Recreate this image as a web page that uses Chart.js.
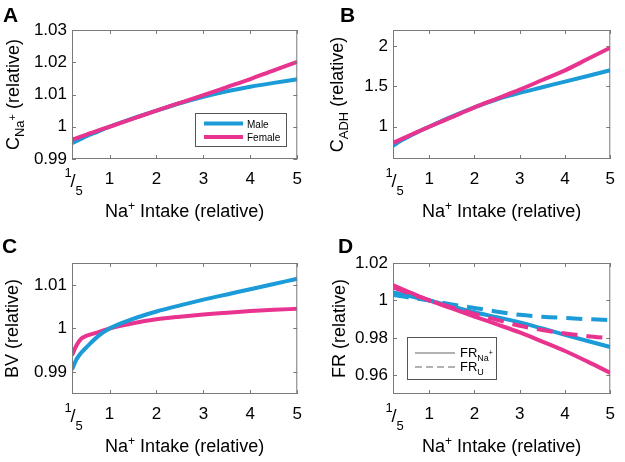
<!DOCTYPE html>
<html>
<head>
<meta charset="utf-8">
<script src="https://cdn.jsdelivr.net/npm/chart.js@4.4.1/dist/chart.umd.min.js"></script>
<style>
  html, body { margin: 0; padding: 0; background: #fff; }
  #wrap { position: relative; width: 625px; height: 462px; overflow: hidden; }
  canvas { position: absolute; }
</style>
</head>
<body>
<div id="wrap">
  <canvas id="panelA" width="312" height="231" style="left:0;top:0"></canvas>
  <canvas id="panelB" width="313" height="231" style="left:312px;top:0"></canvas>
  <canvas id="panelC" width="312" height="231" style="left:0;top:231px"></canvas>
  <canvas id="panelD" width="313" height="231" style="left:312px;top:231px"></canvas>
</div>
<script>
/* sex differences in Na+ response, 4 panels */

// x values (Na+ intake relative) shared by all panels
const xIntake = [0.2, 0.3, 0.4, 0.5, 0.75, 1, 1.5, 2, 2.5, 3, 3.5, 4, 4.5, 5];
const xTickValues = [0.2, 1, 2, 3, 4, 5];

// A: plasma Na+ concentration
const cNaMale   = [0.9949, 0.9956, 0.9963, 0.9970, 0.9985, 1.0, 1.0026, 1.0050, 1.0073, 1.0093, 1.0110, 1.0124, 1.0136, 1.0147];
const cNaFemale = [0.9960, 0.9965, 0.9970, 0.9975, 0.9988, 1.0, 1.0025, 1.0050, 1.0074, 1.0098, 1.0123, 1.0148, 1.0175, 1.0201];
const yTicksA = [0.99, 1, 1.01, 1.02, 1.03];

// B: ADH concentration
const cAdhMale   = [0.765, 0.80, 0.835, 0.865, 0.935, 1.0, 1.125, 1.24, 1.34, 1.42, 1.49, 1.56, 1.63, 1.70];
const cAdhFemale = [0.80, 0.825, 0.85, 0.875, 0.94, 1.0, 1.12, 1.24, 1.35, 1.46, 1.58, 1.70, 1.84, 1.98];
const yTicksB = [1, 1.5, 2];

// C: blood volume
const bvMale   = [0.9906, 0.9930, 0.9945, 0.9956, 0.9982, 1.0, 1.0022, 1.0039, 1.0053, 1.0066, 1.0078, 1.0090, 1.0102, 1.0114];
const bvFemale = [0.9939, 0.9962, 0.9977, 0.9983, 0.9991, 1.0, 1.0012, 1.0021, 1.0027, 1.0032, 1.0036, 1.0040, 1.0043, 1.0045];
const yTicksC = [0.99, 1, 1.01];

// D: fractional reabsorption (Na+ solid, urine dashed)
const frNaMale   = [1.0043, 1.0038, 1.0033, 1.0027, 1.0013, 1.0, 0.9968, 0.9937, 0.9910, 0.9883, 0.9850, 0.9816, 0.9783, 0.9751];
const frNaFemale = [1.0082, 1.0071, 1.0061, 1.0050, 1.0025, 1.0, 0.9957, 0.9914, 0.9872, 0.9829, 0.9780, 0.9730, 0.9673, 0.9613];
const frUMale    = [1.0030, 1.0026, 1.0022, 1.0018, 1.0009, 1.0, 0.9978, 0.9960, 0.9940, 0.9923, 0.9913, 0.9906, 0.9900, 0.9895];
const frUFemale  = [1.0070, 1.0061, 1.0052, 1.0043, 1.0021, 1.0, 0.9963, 0.9928, 0.9896, 0.9865, 0.9842, 0.9823, 0.9809, 0.9798];
const yTicksD = [0.96, 0.98, 1, 1.02];

const MALE_BLUE = '#1b9bd7';
const FEMALE_PINK = '#e8338f';
const FONT = '"Liberation Sans", Arial, Helvetica, sans-serif';

Chart.defaults.font.family = FONT;

// draw a run of text pieces (size, vertical shift) starting at x,y
function drawRich(ctx, parts, x, y, align) {
    let total = 0;
    parts.forEach(p => {
        ctx.font = (p.bold ? 'bold ' : '') + p.size + 'px ' + FONT;
        p.w = ctx.measureText(p.t).width;
        total += p.w;
    });
    let cx = align === 'center' ? x - total / 2 : x;
    ctx.textAlign = 'left';
    ctx.textBaseline = 'alphabetic';
    parts.forEach(p => {
        ctx.font = (p.bold ? 'bold ' : '') + p.size + 'px ' + FONT;
        ctx.fillText(p.t, cx, y + (p.dy || 0));
        cx += p.w;
    });
}

const xTitle = [
    { t: 'Na', size: 18 },
    { t: '+', size: 12, dy: -7 },
    { t: ' Intake (relative)', size: 18 }
];

// box, inward ticks, titles, fraction label, panel letter, legend
function framePlugin(cfg) {
    return {
        id: 'frame',
        afterDraw(chart) {
            const ctx = chart.ctx;
            const a = chart.chartArea;
            const xs = chart.scales.x, ys = chart.scales.y;
            ctx.save();
            ctx.strokeStyle = '#7a7a7a';
            ctx.lineWidth = 1;
            ctx.strokeRect(a.left + 0.5, a.top + 0.5, a.right - a.left - 1, a.bottom - a.top - 1);
            ctx.beginPath();
            xs.ticks.forEach(t => {
                const px = Math.round(xs.getPixelForValue(t.value)) + 0.5;
                ctx.moveTo(px, a.bottom); ctx.lineTo(px, a.bottom - 4);
                ctx.moveTo(px, a.top); ctx.lineTo(px, a.top + 4);
            });
            ys.ticks.forEach(t => {
                const py = Math.round(ys.getPixelForValue(t.value)) + 0.5;
                ctx.moveTo(a.left, py); ctx.lineTo(a.left + 4, py);
                ctx.moveTo(a.right, py); ctx.lineTo(a.right - 4, py);
            });
            ctx.stroke();

            ctx.fillStyle = '#000';
            // 1/5 tick label
            const p0 = xs.getPixelForValue(0.2);
            ctx.font = '13px ' + FONT;
            ctx.textAlign = 'center';
            ctx.fillText('1', p0 - 4, a.bottom + 18);
            ctx.font = '18px ' + FONT;
            ctx.fillText('/', p0 + 1, a.bottom + 28);
            ctx.font = '13px ' + FONT;
            ctx.fillText('5', p0 + 7, a.bottom + 36);

            // x title
            drawRich(ctx, xTitle, (a.left + a.right) / 2, a.bottom + 58, 'center');

            // y title
            ctx.save();
            ctx.translate(cfg.yTitleX, (a.top + a.bottom) / 2);
            ctx.rotate(-Math.PI / 2);
            drawRich(ctx, cfg.yTitle, 0, 0, 'center');
            ctx.restore();

            // panel letter
            drawRich(ctx, [{ t: cfg.letter, size: 21, bold: true }], cfg.letterX, 22, 'left');

            if (cfg.legend) cfg.legend(ctx, a);
            ctx.restore();
        }
    };
}

function legendA(ctx, a) {
    const x0 = a.left + 123, y0 = a.top + 83;
    ctx.fillStyle = '#fff';
    ctx.fillRect(x0, y0, 91, 33);
    ctx.strokeStyle = '#555';
    ctx.lineWidth = 1;
    ctx.strokeRect(x0 + 0.5, y0 + 0.5, 91, 33);
    const rows = [['Male', MALE_BLUE], ['Female', FEMALE_PINK]];
    rows.forEach((r, i) => {
        const y = y0 + 10.5 + i * 13.5;
        ctx.strokeStyle = r[1];
        ctx.lineWidth = 4;
        ctx.beginPath(); ctx.moveTo(x0 + 9, y); ctx.lineTo(x0 + 48, y); ctx.stroke();
        ctx.fillStyle = '#000';
        drawRich(ctx, [{ t: r[0], size: 10 }], x0 + 52, y + 4, 'left');
    });
}

function legendD(ctx, a) {
    const x0 = a.left + 14, y0 = a.top + 74;
    ctx.fillStyle = '#fff';
    ctx.fillRect(x0, y0, 89, 42);
    ctx.strokeStyle = '#555';
    ctx.lineWidth = 1;
    ctx.strokeRect(x0 + 0.5, y0 + 0.5, 89, 42);
    ctx.strokeStyle = '#999';
    ctx.lineWidth = 1.5;
    ctx.beginPath(); ctx.moveTo(x0 + 8, y0 + 16); ctx.lineTo(x0 + 48, y0 + 16); ctx.stroke();
    ctx.setLineDash([7, 4]);
    ctx.beginPath(); ctx.moveTo(x0 + 8, y0 + 30); ctx.lineTo(x0 + 52, y0 + 30); ctx.stroke();
    ctx.setLineDash([]);
    ctx.fillStyle = '#000';
    drawRich(ctx, [{ t: 'FR', size: 13 }, { t: 'Na', size: 9, dy: 4 }, { t: '+', size: 7, dy: -2 }], x0 + 53, y0 + 20, 'left');
    drawRich(ctx, [{ t: 'FR', size: 13 }, { t: 'U', size: 9, dy: 4 }], x0 + 53, y0 + 34, 'left');
}

function makePanel(id, cfg) {
    const datasets = cfg.series.map(s => ({
        data: xIntake.map((x, i) => ({ x: x, y: s.values[i] })),
        borderColor: s.color,
        borderWidth: 4,
        borderDash: s.dash || [],
        pointRadius: 0,
        fill: false,
        cubicInterpolationMode: 'monotone',
        order: s.order
    }));
    return new Chart(document.getElementById(id), {
        type: 'line',
        data: { datasets: datasets },
        options: {
            responsive: false,
            animation: false,
            events: [],
            layout: { padding: { left: 0, top: cfg.padTop, right: cfg.padRight, bottom: 0 } },
            plugins: { legend: { display: false }, tooltip: { enabled: false } },
            scales: {
                x: {
                    type: 'linear',
                    min: 0.2, max: 5,
                    afterBuildTicks: s => { s.ticks = xTickValues.map(v => ({ value: v })); },
                    afterFit: s => { s.height = cfg.xHeight; },
                    grid: { display: false, drawTicks: false },
                    border: { display: false },
                    ticks: {
                        color: '#000', font: { size: 17 }, padding: 10,
                        maxRotation: 0, autoSkip: false,
                        callback: v => (v === 0.2 ? '' : String(v))
                    }
                },
                y: {
                    type: 'linear',
                    min: cfg.yMin, max: cfg.yMax,
                    afterBuildTicks: s => { s.ticks = cfg.yTicks.map(v => ({ value: v })); },
                    afterFit: s => { s.width = cfg.yWidth; },
                    grid: { display: false, drawTicks: false },
                    border: { display: false },
                    ticks: {
                        color: '#000', font: { size: 17 }, padding: 5,
                        callback: v => String(+v.toFixed(4))
                    }
                }
            }
        },
        plugins: [framePlugin(cfg)]
    });
}

makePanel('panelA', {
    letter: 'A', letterX: 3,
    padTop: 30, padRight: 13, xHeight: 72, yWidth: 72,
    yMin: 0.99, yMax: 1.03, yTicks: yTicksA,
    yTitleX: 19,
    yTitle: [{ t: 'C', size: 18 }, { t: 'Na', size: 13, dy: 5 }, { t: '+', size: 11, dy: -3 }, { t: ' (relative)', size: 18 }],
    series: [
        { values: cNaMale, color: MALE_BLUE, order: 2 },
        { values: cNaFemale, color: FEMALE_PINK, order: 1 }
    ],
    legend: legendA
});

makePanel('panelB', {
    letter: 'B', letterX: 28,
    padTop: 30, padRight: 5, xHeight: 72, yWidth: 81,
    yMin: 0.6, yMax: 2.2, yTicks: yTicksB,
    yTitleX: 31,
    yTitle: [{ t: 'C', size: 18 }, { t: 'ADH', size: 13, dy: 5 }, { t: ' (relative)', size: 18 }],
    series: [
        { values: cAdhMale, color: MALE_BLUE, order: 2 },
        { values: cAdhFemale, color: FEMALE_PINK, order: 1 }
    ]
});

makePanel('panelC', {
    letter: 'C', letterX: 2,
    padTop: 32, padRight: 13, xHeight: 68, yWidth: 72,
    yMin: 0.985, yMax: 1.015, yTicks: yTicksC,
    yTitleX: 18,
    yTitle: [{ t: 'BV (relative)', size: 18 }],
    series: [
        { values: bvMale, color: MALE_BLUE, order: 1 },
        { values: bvFemale, color: FEMALE_PINK, order: 2 }
    ]
});

makePanel('panelD', {
    letter: 'D', letterX: 26,
    padTop: 32, padRight: 5, xHeight: 68, yWidth: 81,
    yMin: 0.95, yMax: 1.02, yTicks: yTicksD,
    yTitleX: 33,
    yTitle: [{ t: 'FR (relative)', size: 18 }],
    series: [
        { values: frNaMale, color: MALE_BLUE, order: 4 },
        { values: frNaFemale, color: FEMALE_PINK, order: 3 },
        { values: frUMale, color: MALE_BLUE, dash: [16, 9], order: 2 },
        { values: frUFemale, color: FEMALE_PINK, dash: [16, 9], order: 1 }
    ],
    legend: legendD
});
</script>
</body>
</html>
